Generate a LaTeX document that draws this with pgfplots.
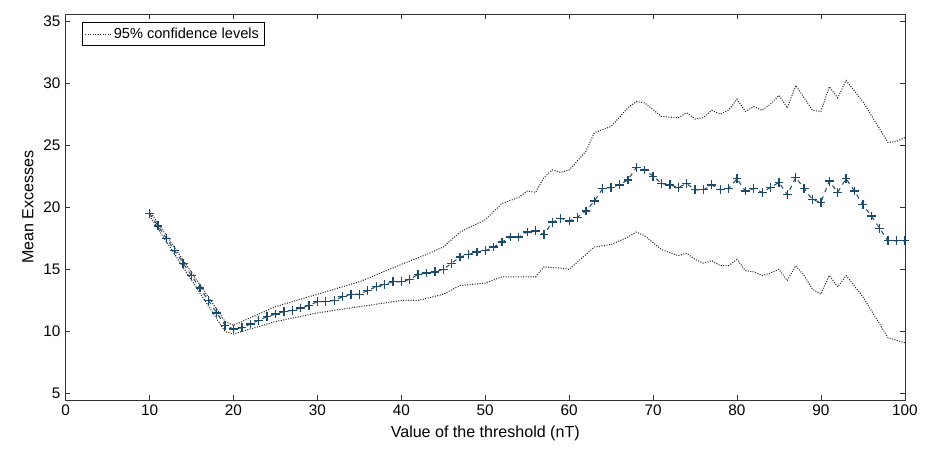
\documentclass[border=0pt]{standalone}
\usepackage{pgfplots}
\pgfplotsset{compat=1.18}
\usepackage{fontspec}
\setmainfont{Liberation Sans}
\definecolor{mc}{HTML}{1C4A6B}
\begin{document}
\begin{tikzpicture}
\begin{axis}[scale only axis, width=575pt, height=264pt,
 xmin=0, xmax=100, ymin=4.5, ymax=35.5,
 xtick={0,10,...,100}, ytick={5,10,...,35},
 tick align=inside, tick pos=both, major tick length=3pt,
 /pgf/number format/assume math mode=true,
 tick label style={font=\fontsize{10.5}{12}\selectfont},
 label style={font=\fontsize{11}{13}\selectfont},
 xlabel={Value of the threshold (nT)}, ylabel={Mean Excesses},
 axis line style={black!80}, every tick/.style={black!80},
 legend style={at={(0.02,0.98)}, anchor=north west, font=\fontsize{10}{12}\selectfont, draw=black, inner sep=1.5pt},
 legend cell align=left]
\path (rel axis cs:0,0) ++(0,0) coordinate (o);
\addplot[black!85, densely dotted, line width=0.7pt] coordinates {
(10,19.7)(19,10.8)(20,10.5)(25,12.0)(30,13.0)(35,14.0)(40,15.4)(43,16.2)(45,16.8)(47,18.0)(50,19.0)(52,20.3)(54,20.8)(55,21.3)(56,21.2)(57,22.4)(58,23.0)(59,22.8)(60,23.0)(62,24.5)(63,26.0)(65,26.5)(67,28.0)(68,28.5)(69,28.4)(71,27.3)(73,27.2)(74,27.6)(75,27.1)(76,27.2)(77,27.8)(78,27.5)(79,27.8)(80,28.7)(81,27.7)(82,28.1)(83,27.8)(84,28.3)(85,29.0)(86,28.0)(87,29.8)(88,28.8)(89,27.8)(90,27.7)(91,29.7)(92,28.8)(93,30.2)(95,28.5)(98,25.2)(99,25.3)(100,25.6)};
\addlegendentry{95\% confidence levels}
\addplot[black!85, densely dotted, line width=0.7pt, forget plot] coordinates {
(10,19.3)(19,10.0)(20,9.8)(25,10.8)(30,11.5)(35,12.0)(40,12.5)(42,12.5)(45,13.0)(47,13.7)(50,13.9)(52,14.4)(54,14.4)(56,14.4)(57,15.2)(59,15.1)(60,15.0)(62,16.2)(63,16.8)(65,17.0)(67,17.6)(68,18.0)(69,17.7)(71,16.6)(73,16.1)(74,16.3)(75,15.8)(76,15.5)(77,15.7)(78,15.3)(79,15.3)(80,15.8)(81,14.9)(82,14.8)(83,14.5)(84,14.7)(85,15.0)(86,14.1)(87,15.3)(88,14.5)(89,13.4)(90,13.0)(91,14.5)(92,13.6)(93,14.5)(95,12.8)(98,9.5)(100,9.1)};
\addplot[mc, dashed, line width=0.7pt, mark=+, mark size=3pt, mark options={solid, line width=0.9pt}, forget plot] coordinates {
(10,19.5)(11,18.5)(12,17.5)(13,16.5)(14,15.5)(15,14.5)(16,13.5)(17,12.5)(18,11.5)(19,10.5)(20,10.2)(21,10.3)(22,10.6)(23,10.9)(24,11.2)(25,11.4)(26,11.6)(27,11.7)(28,11.9)(29,12.1)(30,12.4)(31,12.4)(32,12.5)(33,12.8)(34,13.0)(35,13.0)(36,13.3)(37,13.6)(38,13.8)(39,14.0)(40,14.0)(41,14.2)(42,14.6)(43,14.7)(44,14.8)(45,15.0)(46,15.5)(47,16.0)(48,16.2)(49,16.4)(50,16.5)(51,16.8)(52,17.2)(53,17.6)(54,17.6)(55,18.0)(56,18.1)(57,17.8)(58,18.8)(59,19.1)(60,18.9)(61,19.2)(62,19.7)(63,20.5)(64,21.5)(65,21.6)(66,21.8)(67,22.2)(68,23.2)(69,23.0)(70,22.5)(71,21.9)(72,21.8)(73,21.6)(74,21.9)(75,21.4)(76,21.4)(77,21.8)(78,21.4)(79,21.5)(80,22.3)(81,21.3)(82,21.5)(83,21.2)(84,21.6)(85,22.0)(86,21.0)(87,22.4)(88,21.5)(89,20.6)(90,20.4)(91,22.1)(92,21.2)(93,22.3)(94,21.3)(95,20.2)(96,19.3)(97,18.3)(98,17.3)(99,17.3)(100,17.3)};
\end{axis}
\path (current axis.north west) ++(-45pt,10pt) (current axis.south east) ++(20pt,-40pt);
\end{tikzpicture}
\end{document}
